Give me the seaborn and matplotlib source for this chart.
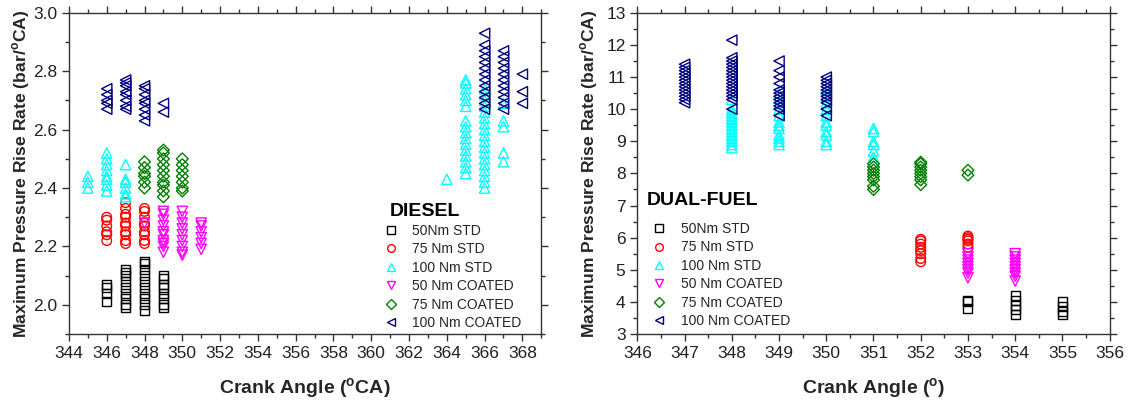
import matplotlib
matplotlib.use("Agg")
import matplotlib.pyplot as plt
from matplotlib.lines import Line2D
from matplotlib.ticker import MultipleLocator, FormatStrFormatter
import pandas as pd
import seaborn as sns

# ---------------- Diesel mode: max pressure rise rate (bar/deg CA) ----------------
diesel_50_std = {
    346: [2.01, 2.04, 2.06, 2.07],
    347: [1.99, 2.00, 2.02, 2.04, 2.06, 2.08, 2.10, 2.11, 2.12],
    348: [1.98, 2.00, 2.02, 2.04, 2.06, 2.08, 2.10, 2.12, 2.14, 2.15],
    349: [1.99, 2.00, 2.02, 2.04, 2.06, 2.07, 2.09, 2.10],
}
diesel_75_std = {
    346: [2.22, 2.24, 2.25, 2.27, 2.29, 2.30],
    347: [2.21, 2.22, 2.24, 2.25, 2.27, 2.28, 2.30, 2.31, 2.33, 2.35],
    348: [2.21, 2.22, 2.24, 2.25, 2.27, 2.28, 2.30, 2.32, 2.33],
}
diesel_100_std = {
    345: [2.40, 2.42, 2.44],
    346: [2.39, 2.41, 2.43, 2.44, 2.46, 2.48, 2.50, 2.52],
    347: [2.37, 2.38, 2.40, 2.42, 2.43, 2.48],
    364: [2.43],
    365: [2.45, 2.47, 2.49, 2.51, 2.53, 2.55, 2.57, 2.59, 2.61, 2.63,
          2.68, 2.70, 2.72, 2.74, 2.76, 2.77],
    366: [2.40, 2.42, 2.44, 2.46, 2.48, 2.50, 2.52, 2.54, 2.56, 2.58,
          2.60, 2.62, 2.64, 2.66, 2.68, 2.70, 2.72, 2.74],
    367: [2.49, 2.52, 2.61, 2.63, 2.69],
}
diesel_50_coated = {
    348: [2.28],
    349: [2.18, 2.20, 2.21, 2.22, 2.24, 2.25, 2.27, 2.29, 2.31, 2.32],
    350: [2.17, 2.18, 2.20, 2.22, 2.24, 2.26, 2.28, 2.30, 2.32],
    351: [2.19, 2.21, 2.23, 2.25, 2.27, 2.28],
}
diesel_75_coated = {
    348: [2.40, 2.42, 2.44, 2.45, 2.47, 2.49],
    349: [2.37, 2.39, 2.41, 2.42, 2.44, 2.46, 2.48, 2.50, 2.52, 2.53],
    350: [2.39, 2.40, 2.42, 2.44, 2.46, 2.48, 2.50],
}
diesel_100_coated = {
    346: [2.67, 2.69, 2.70, 2.72, 2.74],
    347: [2.67, 2.68, 2.70, 2.72, 2.73, 2.75, 2.76, 2.77],
    348: [2.63, 2.65, 2.67, 2.69, 2.70, 2.72, 2.74, 2.75],
    349: [2.66, 2.69],
    366: [2.67, 2.69, 2.71, 2.73, 2.75, 2.77, 2.79, 2.81, 2.83, 2.85, 2.87, 2.89, 2.93],
    367: [2.67, 2.69, 2.71, 2.73, 2.75, 2.77, 2.79, 2.81, 2.83, 2.85, 2.87],
    368: [2.69, 2.73, 2.79],
}

# ---------------- Dual-fuel mode ----------------
dual_50_std = {
    353: [3.80, 4.00, 4.05],
    354: [3.60, 3.75, 3.90, 4.05, 4.20],
    355: [3.60, 3.70, 3.85, 4.00],
}
dual_75_std = {
    352: [5.25, 5.35, 5.50, 5.60, 5.70, 5.80, 5.90, 5.95],
    353: [5.70, 5.80, 5.90, 5.95, 6.00, 6.05],
}
dual_100_std = {
    348: [8.8, 8.9, 9.0, 9.1, 9.2, 9.3, 9.4, 9.5, 9.6, 9.7, 9.8, 9.9, 10.0, 10.3],
    349: [8.9, 9.0, 9.1, 9.2, 9.4, 9.5, 9.6, 9.8, 10.0, 10.2, 10.5],
    350: [8.9, 9.0, 9.2, 9.3, 9.5, 9.6, 9.8, 10.0, 10.2, 10.4, 10.6],
    351: [8.5, 8.7, 8.9, 9.0, 9.3, 9.4],
}
dual_50_coated = {
    353: [4.75, 4.90, 5.00, 5.10, 5.20, 5.30, 5.40, 5.50],
    354: [4.65, 4.80, 4.90, 5.00, 5.10, 5.20, 5.30, 5.40, 5.50],
}
dual_75_coated = {
    351: [7.5, 7.6, 7.8, 7.9, 8.0, 8.1, 8.2, 8.3],
    352: [7.65, 7.8, 7.9, 8.0, 8.1, 8.2, 8.3, 8.35],
    353: [7.95, 8.1],
}
dual_100_coated = {
    347: [10.2, 10.3, 10.4, 10.5, 10.6, 10.7, 10.8, 10.9, 11.0, 11.1, 11.2, 11.3, 11.4],
    348: [10.0, 10.3, 10.4, 10.5, 10.6, 10.7, 10.8, 10.9, 11.0, 11.1, 11.2, 11.3,
          11.4, 11.5, 11.6, 12.15],
    349: [9.8, 10.0, 10.1, 10.2, 10.3, 10.4, 10.5, 10.6, 10.8, 11.0, 11.2, 11.5],
    350: [9.8, 10.0, 10.2, 10.3, 10.4, 10.5, 10.6, 10.7, 10.8, 10.9, 11.0],
}

series_names = ["50Nm STD", "75 Nm STD", "100 Nm STD",
                "50 Nm COATED", "75 Nm COATED", "100 Nm COATED"]
series_colors = ["#000000", "#FF0000", "#00FFFF", "#FF00FF", "#008000", "#000080"]
series_markers = ["s", "o", "^", "v", "D", "<"]

diesel_series = [diesel_50_std, diesel_75_std, diesel_100_std,
                 diesel_50_coated, diesel_75_coated, diesel_100_coated]
dual_series = [dual_50_std, dual_75_std, dual_100_std,
               dual_50_coated, dual_75_coated, dual_100_coated]


def to_frame(series_list):
    rows = []
    for name, d in zip(series_names, series_list):
        for angle, values in d.items():
            for v in values:
                rows.append({"angle": angle, "rate": v, "case": name})
    return pd.DataFrame(rows)


sns.set_theme(style="ticks")
plt.rcParams["font.family"] = ["Liberation Sans", "DejaVu Sans"]
plt.rcParams["mathtext.fontset"] = "custom"
plt.rcParams["mathtext.rm"] = "Liberation Sans"
plt.rcParams["mathtext.bf"] = "Liberation Sans:bold"

palette = dict(zip(series_names, series_colors))
markers = dict(zip(series_names, series_markers))
marker_sizes = {"s": 42, "o": 48, "^": 55, "v": 55, "D": 36, "<": 55}

fig = plt.figure(figsize=(11.30, 4.01), dpi=100)
ax1 = fig.add_axes([0.061, 0.167, 0.418, 0.801])
ax2 = fig.add_axes([0.564, 0.167, 0.418, 0.801])


def draw_panel(ax, series_list):
    df = to_frame(series_list)
    for name in series_names:
        sub = df[df["case"] == name]
        m = markers[name]
        sns.scatterplot(data=sub, x="angle", y="rate", ax=ax, marker=m,
                        s=marker_sizes[m], facecolors="none",
                        edgecolor=palette[name], linewidth=1.0, legend=False)


def style_axes(ax):
    for sp in ax.spines.values():
        sp.set_visible(True)
        sp.set_linewidth(1.0)
        sp.set_color("#333333")
    ax.tick_params(which="both", direction="out", top=True, right=True,
                   labeltop=False, labelright=False, colors="#333333",
                   labelcolor="#222222", width=1.0)
    ax.tick_params(which="major", length=5, labelsize=12.5)
    ax.tick_params(which="minor", length=3)


def add_legend(ax, title, title_xy, anchor):
    ax.text(title_xy[0], title_xy[1], title, transform=ax.transAxes,
            ha="left", va="center", fontsize=14, fontweight="bold",
            color="black")
    handles = [Line2D([], [], linestyle="none", marker=markers[n],
                      markerfacecolor="none", markeredgecolor=palette[n],
                      markersize=5.5, markeredgewidth=1.0)
               for n in series_names]
    ax.legend(handles, series_names, loc="upper left",
              bbox_to_anchor=anchor, frameon=False, fontsize=10,
              handlelength=1.0, handletextpad=1.05, labelspacing=0.32,
              borderaxespad=0, borderpad=0)


# Diesel panel
draw_panel(ax1, diesel_series)
ax1.set_xlim(344, 369)
ax1.set_ylim(1.9, 3.0)
ax1.xaxis.set_major_locator(MultipleLocator(2))
ax1.xaxis.set_minor_locator(MultipleLocator(1))
ax1.yaxis.set_major_locator(MultipleLocator(0.2))
ax1.yaxis.set_minor_locator(MultipleLocator(0.1))
ax1.xaxis.set_major_formatter(FormatStrFormatter("%d"))
ax1.yaxis.set_major_formatter(FormatStrFormatter("%.1f"))
style_axes(ax1)
ax1.set_xlabel(r"Crank Angle ($^\mathbf{o}$CA)", fontsize=14, fontweight="bold")
ax1.set_ylabel(r"Maximum Pressure Rise Rate (bar/$^\mathbf{o}$CA)",
               fontsize=12.6, fontweight="bold")
ax1.xaxis.set_label_coords(0.5, -0.131)
ax1.yaxis.set_label_coords(-0.078, 0.5)
add_legend(ax1, "DIESEL", (0.680, 0.383), (0.667, 0.343))

# Dual-fuel panel
draw_panel(ax2, dual_series)
ax2.set_xlim(346, 356)
ax2.set_ylim(3, 13)
ax2.xaxis.set_major_locator(MultipleLocator(1))
ax2.xaxis.set_minor_locator(MultipleLocator(0.5))
ax2.yaxis.set_major_locator(MultipleLocator(1))
ax2.yaxis.set_minor_locator(MultipleLocator(0.5))
ax2.xaxis.set_major_formatter(FormatStrFormatter("%d"))
ax2.yaxis.set_major_formatter(FormatStrFormatter("%d"))
style_axes(ax2)
ax2.set_xlabel(r"Crank Angle ($^\mathbf{o}$)", fontsize=14, fontweight="bold")
ax2.set_ylabel(r"Maximum Pressure Rise Rate (bar/$^\mathbf{o}$CA)",
               fontsize=12.6, fontweight="bold")
ax2.xaxis.set_label_coords(0.5, -0.131)
ax2.yaxis.set_label_coords(-0.078, 0.5)
add_legend(ax2, "DUAL-FUEL", (0.019, 0.417), (0.032, 0.349))

fig.savefig("out.png", dpi=100)
